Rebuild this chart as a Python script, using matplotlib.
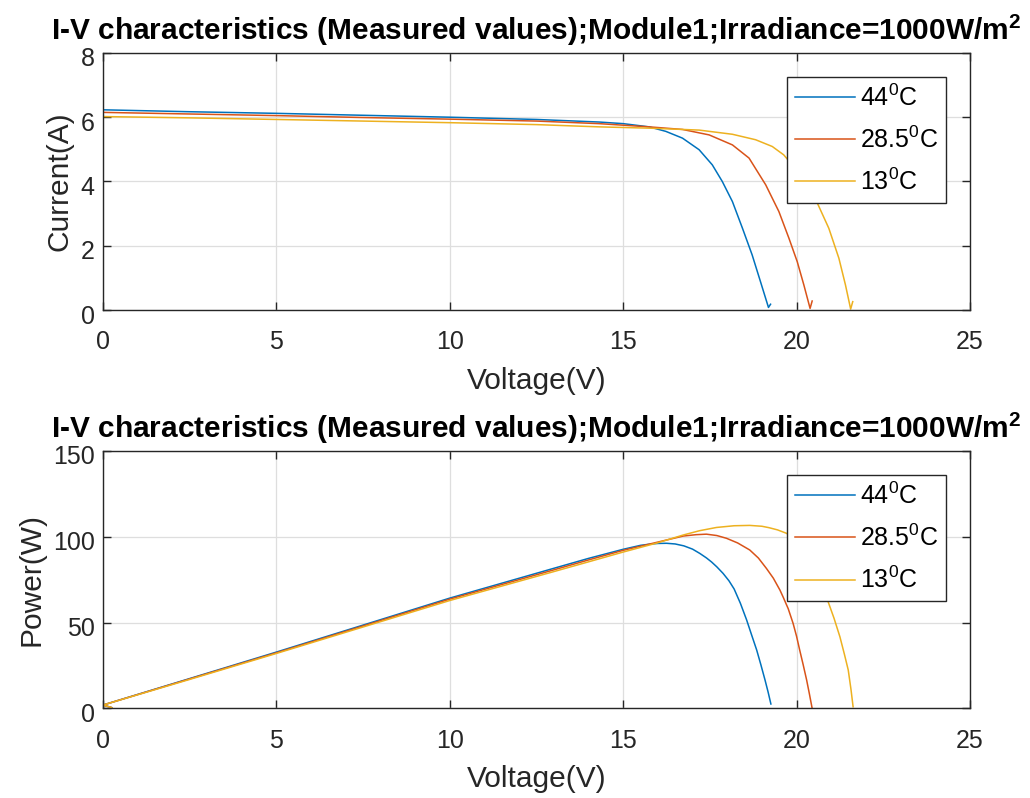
import matplotlib
matplotlib.use("Agg")
import matplotlib.pyplot as plt
from matplotlib.transforms import ScaledTranslation

plt.rcParams['font.family'] = ['Liberation Sans', 'DejaVu Sans']
plt.rcParams['mathtext.fontset'] = 'custom'
plt.rcParams['mathtext.rm'] = 'Liberation Sans'
plt.rcParams['mathtext.it'] = 'Liberation Sans:italic'
plt.rcParams['mathtext.bf'] = 'Liberation Sans:bold'

# Measured I-V data, Module 1, 1000 W/m^2
v_i_44 = [0, 2.5, 5, 7.5, 10, 12.5, 14.31, 15, 15.75, 16.23, 16.71, 17.19, 17.57,
          17.86, 18.15, 18.44, 18.72, 18.96, 19.19, 19.25]
i_44 = [6.22, 6.16, 6.11, 6.05, 5.99, 5.92, 5.84, 5.79, 5.69, 5.55, 5.34, 4.98,
        4.51, 3.99, 3.37, 2.54, 1.71, 0.88, 0.08, 0.18]

v_i_285 = [0, 2.5, 5, 7.5, 10, 12.5, 14.31, 15.75, 16.71, 17.48, 18.15, 18.63,
           19.11, 19.49, 19.78, 20.02, 20.21, 20.39, 20.45]
i_285 = [6.14, 6.09, 6.04, 5.98, 5.93, 5.87, 5.79, 5.69, 5.61, 5.44, 5.13, 4.72,
         3.89, 3.06, 2.23, 1.50, 0.78, 0.05, 0.28]

v_i_13 = [0, 2.5, 5, 7.5, 10, 12.5, 14.31, 15.75, 17.19, 18.15, 18.82, 19.30,
          19.63, 20.0, 20.3, 20.60, 20.93, 21.22, 21.41, 21.56, 21.62]
i_13 = [6.01, 5.97, 5.92, 5.87, 5.82, 5.76, 5.69, 5.65, 5.59, 5.46, 5.29, 5.08,
        4.82, 4.35, 3.88, 3.32, 2.54, 1.61, 0.78, 0.03, 0.26]

# Measured P-V data
v_p_44 = [0.25, 0, 2.5, 5, 7.5, 10, 12.89, 14, 15, 15.5, 15.77, 16.0, 16.25,
          16.5, 16.75, 17.0, 17.21, 17.4, 17.55, 17.7, 17.88, 18.05, 18.2, 18.38,
          18.56, 18.7, 18.85, 18.97, 19.09, 19.18, 19.26]
p_44 = [0.5, 2.0, 17.4, 32.8, 48.5, 64.2, 80.9, 87.3, 92.6, 94.9, 95.6, 96.0,
        96.1, 95.7, 94.6, 92.7, 90.2, 87.6, 85.2, 82.4, 78.6, 74.3, 69.5, 61.2,
        51.5, 43.0, 34.0, 25.5, 16.6, 9.5, 2.6]

v_p_285 = [0.25, 0, 2.5, 5, 7.5, 10, 12.89, 14, 15, 16, 16.73, 17.1, 17.4, 17.7,
           17.98, 18.3, 18.65, 18.9, 19.13, 19.33, 19.52, 19.62, 19.76, 19.9,
           20.0, 20.09, 20.19, 20.29, 20.37, 20.45]
p_285 = [0.5, 2.0, 17.2, 32.4, 48.0, 63.6, 80.0, 86.4, 92.0, 96.8, 100.3, 101.1,
         101.4, 100.6, 99.0, 96.3, 92.2, 87.5, 81.5, 75.8, 68.9, 64.5, 58.0, 49.5,
         42.0, 34.0, 25.5, 16.6, 8.5, 0.0]

v_p_13 = [0.25, 0, 2.5, 5, 7.5, 10, 12.89, 14, 15, 16, 16.73, 17.2, 17.69, 18.2,
          18.65, 19.0, 19.2, 19.45, 19.71, 19.9, 20.1, 20.3, 20.5, 20.7, 20.91,
          21.08, 21.25, 21.38, 21.49, 21.57, 21.63]
p_13 = [0.5, 2.0, 16.9, 32.0, 47.4, 62.8, 79.0, 85.3, 91.0, 96.4, 100.9, 103.4,
        105.3, 106.3, 106.5, 106.0, 105.2, 103.9, 101.9, 99.2, 95.0, 89.3, 82.0,
        73.0, 62.1, 52.5, 41.7, 31.5, 22.4, 11.0, 1.0]

labels = ['44$^0$C', '28.5$^0$C', '13$^0$C']
colors = ['#0072BD', '#D95319', '#EDB120']
x_ticks = [0, 5, 10, 15, 20, 25]
title = 'I-V characteristics (Measured values);Module1;Irradiance=1000W/m$^\\mathbf{2}$'

fig = plt.figure(figsize=(10.30, 7.98), dpi=100)
ax1 = fig.add_axes([0.100, 0.6115, 0.8417, 0.3227])
ax2 = fig.add_axes([0.100, 0.1122, 0.8417, 0.3231])


def style(ax, yticks, ylabel):
    ax.set_xlim(0, 25)
    ax.set_xticks(x_ticks)
    ax.set_ylim(yticks[0], yticks[-1])
    ax.set_yticks(yticks)
    ax.grid(True, color='#dedede', linewidth=0.9)
    ax.set_axisbelow(True)
    ax.tick_params(direction='in', length=6, width=1, colors='#262626',
                   labelsize=18, top=True, right=True)
    ax.tick_params(axis='x', pad=14.5)
    ax.tick_params(axis='y', pad=6)
    # nudge y tick labels slightly downward
    shift = ScaledTranslation(0, -3 / 72, fig.dpi_scale_trans)
    for lbl in ax.get_yticklabels():
        lbl.set_transform(lbl.get_transform() + shift)
    for s in ax.spines.values():
        s.set_color('#262626')
        s.set_linewidth(1.0)
    ax.set_xlabel('Voltage(V)', fontsize=21.5, color='#262626', labelpad=9)
    ax.set_ylabel(ylabel, fontsize=21.5, color='#262626', labelpad=5)
    ax.set_title(title, fontsize=21.5, fontweight='bold', pad=9)
    leg = ax.legend(loc='upper right', bbox_to_anchor=(0.972, 0.905),
                    fontsize=18, frameon=True, fancybox=False, framealpha=1,
                    edgecolor='#262626', handlelength=2.4, handletextpad=0.2,
                    labelspacing=0.63, borderpad=0.3, borderaxespad=0)
    leg.get_frame().set_linewidth(1.0)


ax1.plot(v_i_44, i_44, color=colors[0], lw=1.1, label=labels[0])
ax1.plot(v_i_285, i_285, color=colors[1], lw=1.1, label=labels[1])
ax1.plot(v_i_13, i_13, color=colors[2], lw=1.1, label=labels[2])
style(ax1, [0, 2, 4, 6, 8], 'Current(A)')

ax2.plot(v_p_44, p_44, color=colors[0], lw=1.1, label=labels[0])
ax2.plot(v_p_285, p_285, color=colors[1], lw=1.1, label=labels[1])
ax2.plot(v_p_13, p_13, color=colors[2], lw=1.1, label=labels[2])
style(ax2, [0, 50, 100, 150], 'Power(W)')

fig.savefig('out.png', dpi=100)
